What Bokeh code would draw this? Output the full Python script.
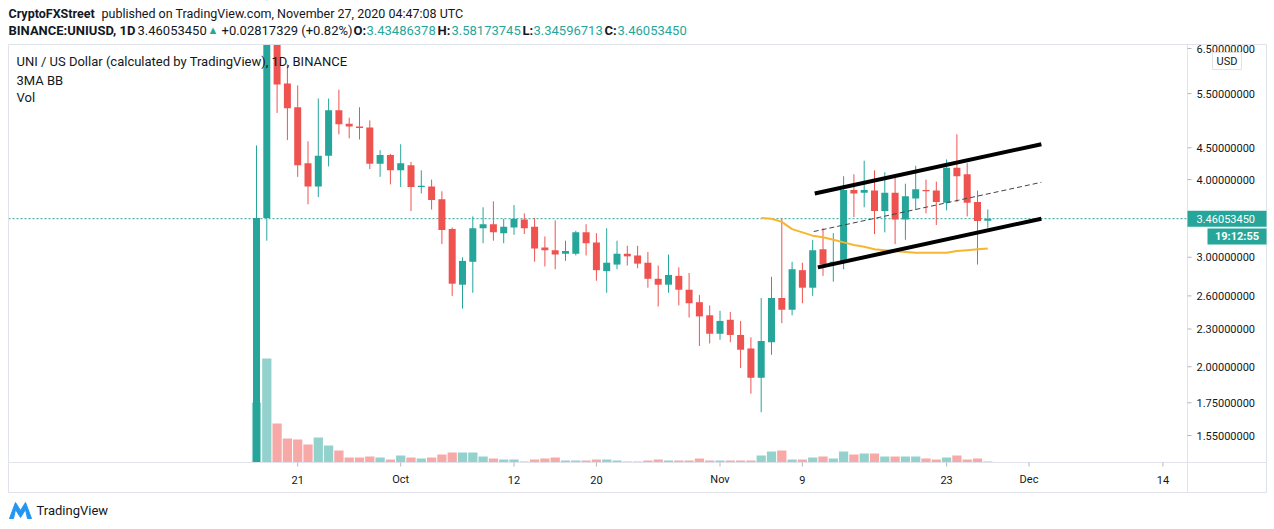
import math
import pandas as pd
from bokeh.plotting import figure
from bokeh.models import Range1d, LinearScale, ColumnDataSource
from bokeh.core.properties import value
from bokeh.embed import file_html
from bokeh.resources import INLINE

# ---------------- data ----------------
start_date = "2020-09-17"
opens = [1.00, 3.47, 6.90, 5.71, 5.23, 4.25, 3.90, 4.37, 5.17, 4.92, 4.87, 4.85, 4.24, 4.38,
         4.14, 4.22, 3.89, 3.90, 3.72, 3.33, 2.71, 2.95, 3.34, 3.39, 3.28, 3.35, 3.45, 3.36,
         3.11, 3.08, 3.04, 3.04, 3.29, 3.17, 2.85, 2.92, 3.04, 3.02, 2.94, 2.77, 2.71, 2.80,
         2.66, 2.54, 2.42, 2.26, 2.38, 2.25, 2.14, 1.92, 2.19, 2.58, 2.47, 2.86, 2.68, 3.09,
         2.92, 2.94, 3.85, 3.81, 3.84, 3.56, 3.81, 3.45, 3.73, 3.85, 3.84, 3.67, 4.18, 4.08,
         3.68, 3.43486378]
highs = [4.54, 8.00, 7.20, 6.13, 5.67, 4.61, 5.40, 5.40, 5.58, 5.03, 5.23, 4.98, 4.46, 4.40,
         4.56, 4.27, 4.14, 4.00, 3.83, 3.35, 3.00, 3.49, 3.61, 3.69, 3.46, 3.64, 3.53, 3.47,
         3.24, 3.44, 3.19, 3.31, 3.39, 3.28, 3.34, 3.19, 3.13, 3.13, 3.06, 2.91, 3.03, 2.89,
         2.83, 2.61, 2.51, 2.46, 2.45, 2.37, 2.23, 2.58, 2.79, 3.47, 2.95, 2.94, 3.20, 3.34,
         3.28, 4.05, 4.08, 4.29, 4.14, 4.11, 4.03, 3.94, 4.21, 4.00, 3.97, 4.31, 4.73, 4.25,
         3.84, 3.58173745]
lows = [1.00, 3.19, 5.12, 4.63, 4.04, 3.65, 3.75, 4.20, 4.73, 4.66, 4.64, 4.16, 4.04, 3.93,
        3.89, 3.56, 3.80, 3.58, 3.15, 2.60, 2.48, 2.63, 3.16, 3.19, 3.16, 3.26, 3.27, 2.95,
        2.90, 2.87, 2.96, 3.02, 3.02, 2.75, 2.63, 2.87, 2.91, 2.88, 2.68, 2.50, 2.63, 2.51,
        2.40, 2.16, 2.18, 2.21, 2.19, 1.99, 1.81, 1.69, 2.09, 2.35, 2.42, 2.53, 2.60, 2.80,
        2.74, 2.87, 3.48, 3.61, 3.27, 3.29, 3.15, 3.20, 3.58, 3.53, 3.38, 3.57, 3.68, 3.49,
        2.92, 3.34596713]
closes = [3.47, 6.90, 5.69, 5.21, 4.22, 3.90, 4.37, 5.17, 4.91, 4.87, 4.84, 4.24, 4.38, 4.14,
          4.25, 3.89, 3.91, 3.71, 3.32, 2.72, 2.96, 3.34, 3.39, 3.29, 3.36, 3.46, 3.34, 3.10,
          3.08, 3.03, 3.07, 3.29, 3.16, 2.86, 2.94, 3.04, 3.01, 2.93, 2.77, 2.71, 2.81, 2.66,
          2.53, 2.41, 2.26, 2.37, 2.25, 2.13, 1.92, 2.20, 2.58, 2.47, 2.87, 2.68, 3.08, 2.92,
          2.95, 3.85, 3.80, 3.85, 3.56, 3.81, 3.45, 3.76, 3.86, 3.83, 3.68, 4.18, 4.05, 3.67,
          3.43, 3.46053450]
volumes_m = [30.5, 52.5, 20.0, 12.5, 12.0, 9.5, 13.0, 9.0, 6.5, 3.0, 3.0, 3.5, 3.0, 2.0,
             4.0, 3.0, 2.5, 3.0, 4.5, 5.5, 5.5, 5.5, 3.5, 2.5, 2.0, 2.0, 1.0, 2.0,
             2.5, 3.0, 1.5, 1.5, 1.5, 2.0, 2.0, 1.5, 1.0, 1.0, 1.5, 2.0, 1.5, 1.5,
             1.5, 2.5, 1.5, 1.5, 1.5, 1.5, 1.5, 4.0, 6.0, 6.5, 2.0, 2.0, 3.0, 3.5,
             2.5, 6.0, 4.5, 5.0, 5.0, 3.5, 3.5, 3.5, 3.5, 2.5, 2.0, 3.0, 4.0, 2.0,
             2.5, 1.0]
ma_start = "2020-11-05"
ma_values = [3.47, 3.46, 3.42, 3.33, 3.29, 3.25, 3.23, 3.20, 3.17, 3.14, 3.12, 3.09,
             3.08, 3.07, 3.06, 3.05, 3.05, 3.05, 3.05, 3.07, 3.08, 3.09, 3.10]
last_price = 3.46053450
tick_dates = ["2020-09-21", "2020-10-01", "2020-10-12", "2020-10-20", "2020-11-01",
              "2020-11-09", "2020-11-23", "2020-12-01", "2020-12-14"]
tick_labels = ["21", "Oct", "12", "20", "Nov", "9", "23", "Dec", "14"]
price_ticks = [1.55, 1.75, 2.0, 2.3, 2.6, 3.0, 4.0, 4.5, 5.5, 6.5]
# channel drawing (day offset from start, price)
chan_upper_x, chan_upper_y = [54.2, 76.2], [3.80, 4.56]
chan_lower_x, chan_lower_y = [54.5, 76.2], [2.89, 3.46]
chan_mid_x, chan_mid_y = [54.1, 76.2], [3.30, 3.96]

# ---------------- derived ----------------
t0 = pd.Timestamp(start_date)
n = len(opens)
days = list(range(n))
UP, DN = "#26a69a", "#ef5350"
UPV, DNV = "#93d2cc", "#f7a9a7"
is_up = [c >= o for o, c in zip(opens, closes)]
src = ColumnDataSource(dict(
    x=days, o=opens, h=highs, l=lows, c=closes, v=volumes_m,
    top=[max(o, c) for o, c in zip(opens, closes)],
    bot=[min(o, c) for o, c in zip(opens, closes)],
    col=[UP if u else DN for u in is_up],
    vcol=[UPV if u else DNV for u in is_up],
))
ma_off = (pd.Timestamp(ma_start) - t0).days
ma_x = [ma_off + i for i in range(len(ma_values))]
tick_x = [(pd.Timestamp(d) - t0).days for d in tick_dates]

FONT = "Roboto"
TXT = "#131722"
GRID = "#e0e3eb"

W, H = 1272, 527
# chart pane geometry (pixels of the page)
PANE_L, PANE_R, PANE_T, PANE_B, BOX_B, BOX_R = 8, 1187, 44, 462, 492, 1266
X0, DAY_PX = 256.0, 10.3          # x of first candle, pixels per day
Y_REF, LN_REF, PX_PER_LN = 48.0, math.log(6.5), 270.0   # log price scale

x_lo = (0 - X0) / DAY_PX
x_hi = (W - X0) / DAY_PX
y_hi = math.exp(LN_REF + (Y_REF - 0) / PX_PER_LN)
y_lo = math.exp(LN_REF - (H - Y_REF) / PX_PER_LN)

p = figure(width=W, height=H, y_axis_type="log",
           x_range=Range1d(x_lo, x_hi), y_range=Range1d(y_lo, y_hi),
           x_axis_location=None, y_axis_location=None,
           output_backend="svg", toolbar_location=None,
           min_border=0, min_border_left=0, min_border_right=0,
           min_border_top=0, min_border_bottom=0)
VOL_PX = 0.5  # volume units per pixel
p.extra_y_ranges = {"vol": Range1d(-(H - 463) * VOL_PX, 463 * VOL_PX),
                    "px": Range1d(H, 0)}
p.extra_y_scales = {"vol": LinearScale(), "px": LinearScale()}
p.extra_x_ranges = {"px": Range1d(0, W)}
p.extra_x_scales = {"px": LinearScale()}
p.background_fill_color = "white"
p.border_fill_color = "white"
p.outline_line_color = None
p.xgrid.visible = False
p.ygrid.visible = False

PX = dict(x_range_name="px", y_range_name="px")

# price line (dotted)
p.segment(x0=[PANE_L], x1=[PANE_R], y0=[last_price], y1=[last_price], x_range_name="px",
          line_color=UP, line_dash="2 2", line_width=1)
# volume
p.vbar(x="x", width=0.9, top="v", bottom=0, source=src, y_range_name="vol",
       fill_color="vcol", line_color=None)
# candles
p.segment(x0="x", y0="l", x1="x", y1="h", source=src, line_color="col", line_width=1)
p.vbar(x="x", width=0.68, top="top", bottom="bot", source=src, fill_color="col", line_color=None)
# moving average
p.line(ma_x, ma_values, line_color="#f8b62e", line_width=2)
# channel drawing
p.line(chan_upper_x, chan_upper_y, line_color="black", line_width=4)
p.line(chan_lower_x, chan_lower_y, line_color="black", line_width=4)
p.line(chan_mid_x, chan_mid_y, line_color="#444444", line_width=1, line_dash="5 3")

# white masks outside the pane
p.quad(left=[0, 0, PANE_R + 0.5, 0], right=[W, W, W, PANE_L],
       top=[0, PANE_B + 0.5, 0, 0], bottom=[PANE_T, H, H, H],
       fill_color="white", line_color=None, **PX)

# borders
p.line([PANE_L, BOX_R, BOX_R, PANE_L, PANE_L], [PANE_T, PANE_T, BOX_B, BOX_B, PANE_T],
       line_color=GRID, line_width=1, **PX)
p.segment(x0=[PANE_R, PANE_L], x1=[PANE_R, BOX_R], y0=[PANE_T, PANE_B], y1=[BOX_B, PANE_B],
          line_color=GRID, line_width=1, **PX)

# price axis (right)
p.segment(x0=[PANE_R] * len(price_ticks), x1=[PANE_R + 4] * len(price_ticks),
          y0=price_ticks, y1=price_ticks, x_range_name="px", line_color="#b2b5be")
p.text(x=[PANE_R + 9] * len(price_ticks), y=price_ticks,
       text=["%.8f" % t for t in price_ticks], x_range_name="px",
       text_font=value(FONT), text_font_size=value("11px"), text_color=TXT,
       text_baseline=value("middle"), text_align=value("left"))
# time axis (bottom)
p.segment(x0=tick_x, x1=tick_x, y0=[PANE_B] * len(tick_x), y1=[PANE_B + 4] * len(tick_x),
          y_range_name="px", line_color="#b2b5be")
p.text(x=tick_x, y=[479] * len(tick_x), text=tick_labels, y_range_name="px",
       text_font=value(FONT), text_font_size=value("11px"), text_color=TXT,
       text_baseline=value("middle"), text_align=value("center"))


def txt(x, y, s, color=TXT, bold=False, size="13px", align="left"):
    p.text(x=[x], y=[y], text=[s], text_color=color, text_font=value(FONT),
           text_font_size=value(size), text_font_style=value("bold" if bold else "normal"),
           text_baseline=value("middle"), text_align=value(align), **PX)


# header
txt(8, 13, "CryptoFXStreet", bold=True, size="12.5px")
txt(101, 13, "published on TradingView.com, November 27, 2020 04:47:08 UTC", size="12.5px")
txt(8, 30, "BINANCE:UNIUSD, 1D", bold=True)
txt(137, 30, "3.46053450")
txt(207, 30, "\u25b2", color=UP, size="11px")
txt(221, 30, "+0.02817329 (+0.82%)")
txt(353, 30, "O:", bold=True)
txt(366, 30, "3.43486378", color=UP)
txt(437, 30, "H:", bold=True)
txt(451, 30, "3.58173745", color=UP)
txt(522, 30, "L:", bold=True)
txt(533, 30, "3.34596713", color=UP)
txt(604, 30, "C:", bold=True)
txt(617, 30, "3.46053450", color=UP)

# pane legend
txt(16, 61, "UNI / US Dollar (calculated by TradingView), 1D, BINANCE")
txt(16, 80, "3MA BB")
txt(16, 97, "Vol")

# footer
p.patch([9, 15, 20, 25, 31, 27, 25, 20, 15, 13], [518, 502, 510, 502, 518, 518, 509, 517, 509, 518],
        fill_color="#2196f3", line_color="#2196f3", **PX)
txt(36, 510, "TradingView", size="13px")

# price scale badges
p.rect(x=[(PANE_R + BOX_R) / 2], y=[last_price], width=BOX_R - PANE_R, height=16,
       height_units="screen", x_range_name="px", fill_color=UP, line_color=None)
p.text(x=[PANE_R + 9], y=[last_price], text=["3.46053450"], x_range_name="px",
       text_font=value(FONT), text_font_size=value("11px"), text_color="white",
       text_baseline=value("middle"), text_align=value("left"))
p.quad(left=[1207], right=[BOX_R], top=[228], bottom=[244], fill_color=UP, line_color=None, **PX)
txt(1236.5, 236, "19:12:55", color="white", bold=True, size="11px", align="center")
p.quad(left=[1212], right=[1241], top=[52], bottom=[69], fill_color="white",
       line_color=GRID, **PX)
txt(1226.5, 60.5, "USD", size="11px", align="center")

open("out.html", "w").write(file_html(p, INLINE))
